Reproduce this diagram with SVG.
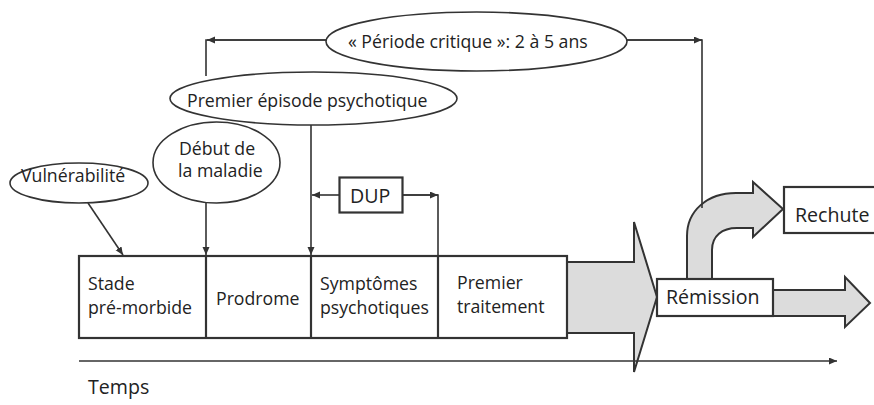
<svg xmlns="http://www.w3.org/2000/svg" width="874" height="405" viewBox="0 0 874 405">
<style>
text{font-family:"Open Sans","Noto Sans","Liberation Sans",sans-serif;fill:#222;font-size:17.7px}
.big{font-size:19.6px}
.ell{fill:#fff;stroke:#333;stroke-width:1.6}
.box{fill:#fff;stroke:#333;stroke-width:2.2}
.con{fill:none;stroke:#333;stroke-width:1.6}
.arr{fill:#dcdcdc;stroke:#333;stroke-width:2}
</style>
<defs>
<marker id="ah" markerUnits="userSpaceOnUse" markerWidth="9" markerHeight="8" refX="8" refY="3.5" orient="auto">
<path d="M0,0 L8,3.5 L0,7 z" fill="#333"/>
</marker>
</defs>

<g id="flow-arrows">
<path class="arr" d="M567,262 L634,262 L634,222 L657,297 L634,372 L634,333 L567,333 Z"/>
<path class="arr" d="M773,290 L845,290 L845,277 L870,303 L845,327 L845,316 L773,316 Z"/>
<path class="arr" d="M687,279 L687,236 C687,211 707,193 736,193 L753,193 L753,182 L783,209 L753,237 L753,228 L737,228 C722,228 712,236 712,250 L712,279 Z"/>
</g>

<g id="connectors">
<line class="con" x1="88" y1="203" x2="123" y2="255" marker-end="url(#ah)"/>
<line class="con" x1="206" y1="203" x2="206" y2="255" marker-end="url(#ah)"/>
<line class="con" x1="311" y1="125" x2="311" y2="255" marker-end="url(#ah)"/>
<line class="con" x1="339" y1="195" x2="312" y2="195" marker-end="url(#ah)"/>
<polyline class="con" points="403,195 438,195 438,256"/>
<line class="con" x1="403" y1="195" x2="438" y2="195" marker-end="url(#ah)"/>
<polyline class="con" points="206,76 206,40 326,40"/>
<line class="con" x1="326" y1="40" x2="207" y2="40" marker-end="url(#ah)"/>
<polyline class="con" points="627,40 702,40 702,208"/>
<line class="con" x1="627" y1="40" x2="702" y2="40" marker-end="url(#ah)"/>
<line class="con" x1="79" y1="361" x2="837" y2="361" marker-end="url(#ah)"/>
</g>

<g id="timeline">
<rect class="box" x="79" y="256" width="488" height="82"/>
<line class="box" x1="206" y1="256" x2="206" y2="338"/>
<line class="box" x1="311" y1="256" x2="311" y2="338"/>
<line class="box" x1="438" y1="256" x2="438" y2="338"/>
</g>
<g id="stade"><text x="88" y="290">Stade</text><text x="88" y="314">pré-morbide</text></g>
<g id="prodrome"><text x="216" y="305">Prodrome</text></g>
<g id="symptomes"><text x="320" y="290">Symptômes</text><text x="320" y="314">psychotiques</text></g>
<g id="traitement"><text x="457" y="289">Premier</text><text x="457" y="313">traitement</text></g>

<g id="vulnerabilite">
<ellipse class="ell" cx="79" cy="183" rx="69" ry="20"/>
<text x="21" y="182">Vulnérabilité</text>
</g>
<g id="debut">
<ellipse class="ell" cx="216.5" cy="162.5" rx="63.5" ry="40.5"/>
<text x="179" y="155">Début de</text>
<text x="178" y="177">la maladie</text>
</g>
<g id="episode">
<ellipse class="ell" cx="313.5" cy="98.5" rx="143.5" ry="26.5"/>
<text x="187" y="107">Premier épisode psychotique</text>
</g>
<g id="periode">
<ellipse class="ell" cx="476.5" cy="41.5" rx="150.5" ry="29.5"/>
<text x="348" y="48">« Période critique »: 2 à 5 ans</text>
</g>
<g id="dup">
<rect class="box" x="339.5" y="177.5" width="63" height="35"/>
<text class="big" x="350" y="203">DUP</text>
</g>
<g id="remission">
<rect class="box" x="657" y="279" width="116" height="37"/>
<text class="big" x="666" y="304">Rémission</text>
</g>
<g id="rechute">
<rect class="box" x="784" y="187" width="100" height="46"/>
<text class="big" x="795" y="222">Rechute</text>
</g>
<g id="temps"><text class="big" x="88" y="394">Temps</text></g>
</svg>
